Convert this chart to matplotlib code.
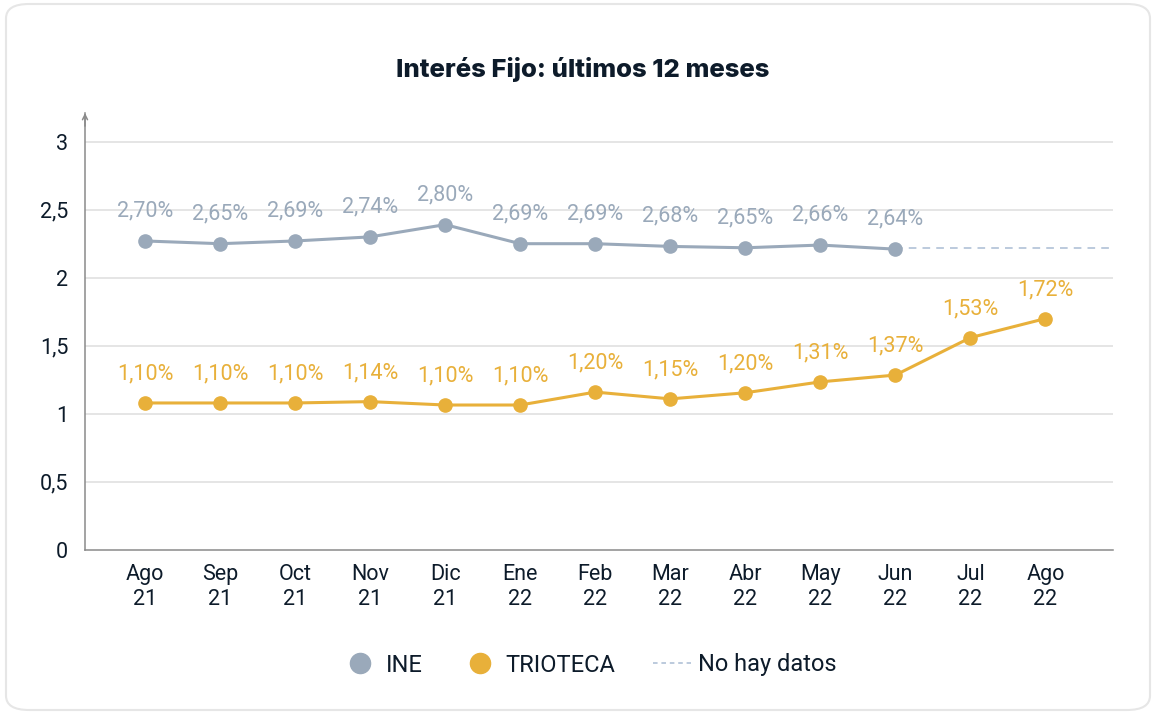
import matplotlib
matplotlib.use("Agg")
import matplotlib.pyplot as plt
from matplotlib.lines import Line2D
from matplotlib.patches import FancyBboxPatch

months = ["Ago\n21", "Sep\n21", "Oct\n21", "Nov\n21", "Dic\n21", "Ene\n22", "Feb\n22",
          "Mar\n22", "Abr\n22", "May\n22", "Jun\n22", "Jul\n22", "Ago\n22"]
ine_values = [2.27, 2.25, 2.27, 2.30, 2.39, 2.25, 2.25, 2.23, 2.22, 2.24, 2.21]
ine_labels = ["2,70%", "2,65%", "2,69%", "2,74%", "2,80%", "2,69%", "2,69%",
              "2,68%", "2,65%", "2,66%", "2,64%"]
trio_values = [1.08, 1.08, 1.08, 1.09, 1.065, 1.065, 1.16, 1.11, 1.155, 1.235, 1.285, 1.56, 1.70]
trio_labels = ["1,10%", "1,10%", "1,10%", "1,14%", "1,10%", "1,10%", "1,20%",
               "1,15%", "1,20%", "1,31%", "1,37%", "1,53%", "1,72%"]
nodata_value = 2.215
yticks = [0, 0.5, 1, 1.5, 2, 2.5, 3]
ytick_labels = ["0", "0,5", "1", "1,5", "2", "2,5", "3"]

INE_C = "#9AA9BA"
TRIO_C = "#E8B03A"
TEXT_C = "#0D1B2A"
DASH_C = "#A9BCD3"

plt.rcParams['font.family'] = ['Roboto', 'DejaVu Sans']

W, H = 1156, 715
fig = plt.figure(figsize=(W / 100, H / 100), dpi=100)
fig.patch.set_facecolor("white")
fig.patches.append(FancyBboxPatch((6 / W, 5 / H), 1144 / W, 706 / H,
                                  boxstyle="round,pad=0,rounding_size=0.02",
                                  transform=fig.transFigure, facecolor="white",
                                  edgecolor="#E6E6E6", linewidth=1.5, zorder=-1))

ax = fig.add_axes([85 / W, 1 - 550 / H, (1113 - 85) / W, (550 - 113) / H])
ax.set_xlim(-0.8, 12.9)
ax.set_ylim(0, 3.21)

x_ine = list(range(len(ine_values)))
x_trio = list(range(len(trio_values)))

for y in yticks[1:]:
    ax.axhline(y, color="#E3E3E3", linewidth=1.3, zorder=0)

ax.plot(x_ine, ine_values, color=INE_C, linewidth=2.2, marker="o", markersize=9.5, zorder=3)
ax.plot([x_ine[-1], 12.85], [nodata_value, nodata_value], color=DASH_C, linewidth=1.1,
        linestyle=(0, (5, 4)), zorder=2)
ax.plot(x_trio, trio_values, color=TRIO_C, linewidth=2.2, marker="o", markersize=9.5, zorder=3)

for xi, v, lab in zip(x_ine, ine_values, ine_labels):
    ax.annotate(lab, (xi, v), xytext=(0, 30), textcoords="offset pixels",
                ha="center", va="center", color=INE_C, fontsize=15.5)
for xi, v, lab in zip(x_trio, trio_values, trio_labels):
    ax.annotate(lab, (xi, v), xytext=(0, 29), textcoords="offset pixels",
                ha="center", va="center", color=TRIO_C, fontsize=15.5)

ax.set_yticks(yticks)
ax.set_yticklabels(ytick_labels)
ax.set_xticks(x_trio)
ax.set_xticklabels(months, linespacing=1.25)
ax.tick_params(axis="both", length=0, labelsize=15.5, colors=TEXT_C)
ax.tick_params(axis="y", pad=12)
ax.tick_params(axis="x", pad=10)

for s in ["top", "right"]:
    ax.spines[s].set_visible(False)
ax.spines["left"].set_color("#8A8A8A")
ax.spines["bottom"].set_color("#8A8A8A")
ax.spines["left"].set_linewidth(1.1)
ax.spines["bottom"].set_linewidth(1.1)
ax.annotate("", xy=(0, 1.0), xytext=(0, 0.97), xycoords="axes fraction",
            arrowprops=dict(arrowstyle="->", color="#8A8A8A", lw=1.1,
                            shrinkA=0, shrinkB=0, mutation_scale=9))

fig.text(583 / W, 1 - 69 / H, "Interés Fijo: últimos 12 meses", ha="center", va="center",
         fontsize=18.5, fontweight="heavy", color=TEXT_C, family=["Inter", "DejaVu Sans"])

handles = [
    Line2D([], [], linestyle="none", marker="o", markersize=14.5, color=INE_C),
    Line2D([], [], linestyle="none", marker="o", markersize=14.5, color=TRIO_C),
    Line2D([], [], linestyle=(0, (3, 2.5)), linewidth=1.1, color=DASH_C),
]
leg = fig.legend(handles, ["INE", "TRIOTECA", "No hay datos"], loc="center",
                 bbox_to_anchor=(589 / W, 1 - 665 / H), ncol=3, frameon=False,
                 fontsize=17, handlelength=1.6, handletextpad=0.3, columnspacing=1.6)
for t in leg.get_texts():
    t.set_color(TEXT_C)

fig.savefig("out.png", dpi=100, facecolor="white")
